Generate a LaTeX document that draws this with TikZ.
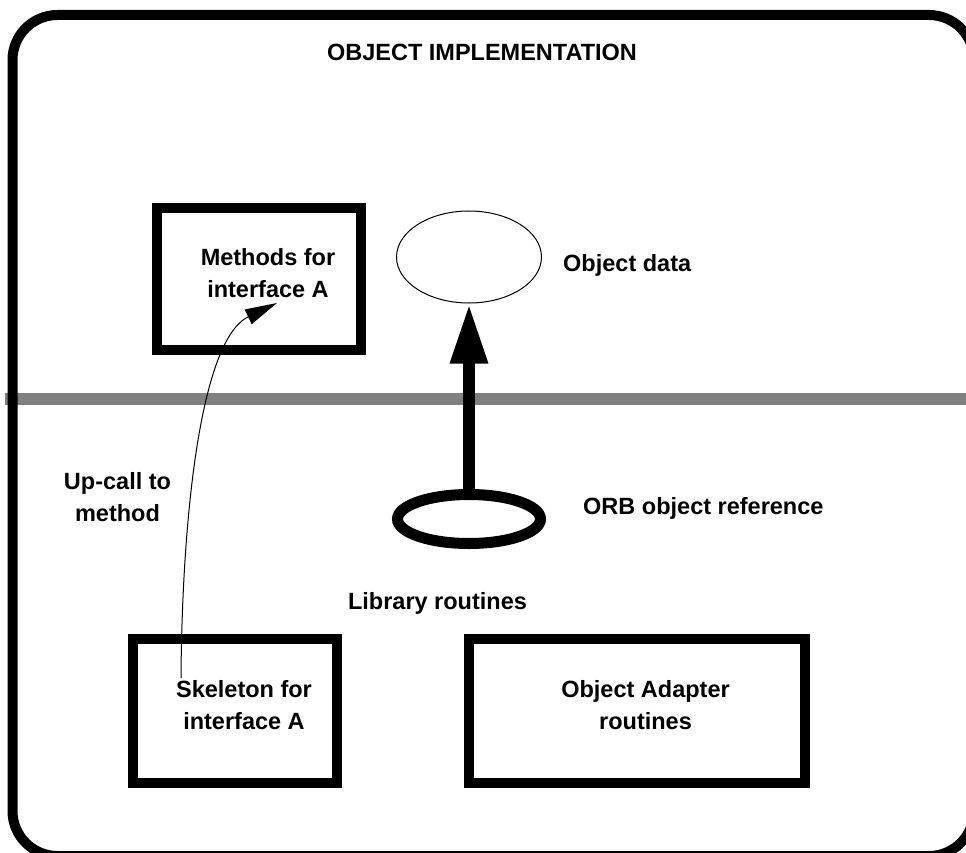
\documentclass[tikz,border=0pt]{standalone}
\usepackage{fontspec}
\setmainfont{Liberation Sans}
\usetikzlibrary{positioning,shapes.geometric,arrows.meta}

\tikzset{
  box/.style={draw, rectangle, line width=10pt, inner sep=0pt},
  tag/.style={inner sep=0pt, align=center},
  boxtext/.style={tag, xshift=9pt, yshift=6pt},
  frame/.style={draw, line width=10pt, rounded corners=45pt},
  divider/.style={draw=gray, line width=12pt},
}

\begin{document}
\begin{tikzpicture}[x=1pt, y=-1pt, font=\fontsize{23.5}{32}\selectfont\bfseries]

    \useasboundingbox (0,0) rectangle (966,853);
    \clip (0,0) rectangle (966,853);

    % Divider and frame
    \draw[divider] (5,399) -- (966,399);
    \draw[frame] (12.5,15) rectangle (974,856);

    % Nodes
    \node (title) [tag] at (482,52) {OBJECT IMPLEMENTATION};
    \node (methods) [box, minimum width=204pt, minimum height=142pt] at (259,279) {};
    \node (methodstext) [boxtext] at (methods.center) {Methods for\\interface A};
    \node (objdata) [ellipse, draw, line width=1pt, minimum width=145pt, minimum height=92pt, inner sep=0pt] at (469,257) {};
    \node (datalabel) [tag, anchor=west] at (563,265) {Object data};
    \node (orbref) [ellipse, draw, line width=11pt, minimum width=143pt, minimum height=49pt, inner sep=0pt] at (469,519) {};
    \node (reflabel) [tag, right=37pt of orbref, yshift=11pt] {ORB object reference};
    \node (uplabel) [tag] at (117.5,497) {Up-call to\\method};
    \node (libroutines) [tag] at (437.5,603) {Library routines};
    \node (skeleton) [box, minimum width=204pt, minimum height=144pt] at (235,711) {};
    \node (skeletontext) [boxtext] at (skeleton.center) {Skeleton for\\interface A};
    \node (adapter) [box, minimum width=336pt, minimum height=144pt] at (636.5,711) {};
    \node (adaptertext) [boxtext] at (adapter.center) {Object Adapter\\routines};

    \coordinate (upstart) at (181,678);
    \coordinate (uptip) at (277,303);

    % Arrows
    \draw[line width=12pt, -{Triangle[length=60pt, width=35pt]}] (orbref.north) -- (objdata.south);
    \draw[line width=1pt, -{Triangle[length=32pt, width=16pt]}] (upstart) .. controls (182,520) and (200,340) .. (uptip);
\end{tikzpicture}
\end{document}
